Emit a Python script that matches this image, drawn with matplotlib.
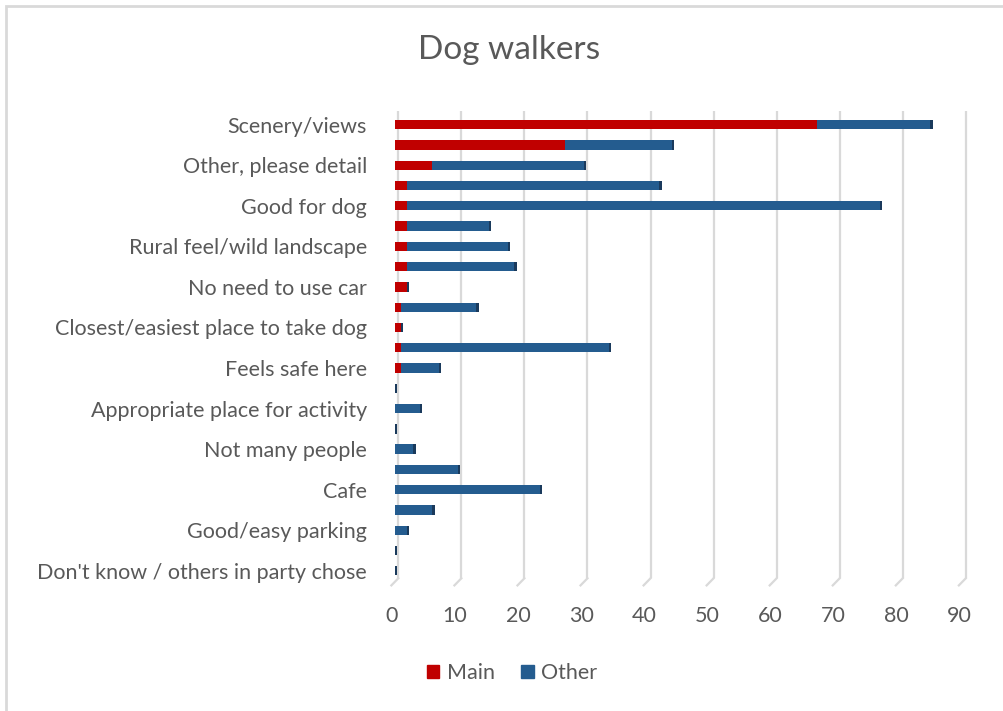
import numpy as np
import matplotlib.pyplot as plt
from matplotlib.patches import Patch, Rectangle

plt.rcParams['font.family'] = ['Lato', 'DejaVu Sans']

# reasons, top to bottom (only every other one is labelled on the axis)
reasons = [
    'Scenery/views', '',
    'Other, please detail', '',
    'Good for dog', '',
    'Rural feel/wild landscape', '',
    'No need to use car', '',
    'Closest/easiest place to take dog', '',
    'Feels safe here', '',
    'Appropriate place for activity', '',
    'Not many people', '',
    'Cafe', '',
    'Good/easy parking', '',
    "Don't know / others in party chose",
]
main = np.array([67, 27, 6, 2, 2, 2, 2, 2, 2, 1, 1, 1, 1,
                 0, 0, 0, 0, 0, 0, 0, 0, 0, 0])
total = np.array([85, 44, 30, 42, 77, 15, 18, 19, 2, 13, 1, 34, 7,
                  0, 4, 0, 3, 10, 23, 6, 2, 0, 0])
other = total - main
ticks = np.arange(0, 91, 10)

RED = '#c00000'
BLUE = '#245c8f'
CAP = '#1a3a5c'
TXT = '#595959'
GRID = '#d9d9d9'
FS = 15.5

fig = plt.figure(figsize=(10.04, 7.11), dpi=100)
ax = fig.add_axes([392 / 1004, 1 - 578.3 / 711, 570 / 1004, 467.6 / 711])

y = np.arange(len(reasons))
h = 0.46
ax.barh(y, main, height=h, color=RED, zorder=3)
ax.barh(y, other, left=main, height=h, color=BLUE, zorder=3)
# dark end face of each bar (3D look)
ax.barh(y, 0.35, left=total, height=h, color=CAP, zorder=3)

ax.set_xlim(0, 90)
ax.set_ylim(22.37, -0.69)

# back-wall gridlines with the little floor slant at the bottom
for t in ticks:
    gx = t + 0.6
    ax.plot([gx, gx], [-0.69, 22.37], color=GRID, lw=1.6, zorder=1,
            clip_on=False, solid_capstyle='butt')
    ax.plot([gx, gx - 1.1], [22.37, 22.72], color=GRID, lw=1.6, zorder=1,
            clip_on=False)

for s in ax.spines.values():
    s.set_visible(False)

ax.set_yticks(y)
ax.set_yticklabels(reasons, fontsize=FS, color=TXT)
ax.tick_params(axis='y', length=0, pad=18)
ax.set_xticks(ticks - 0.4)
ax.set_xticklabels([str(t) for t in ticks], fontsize=FS, color=TXT)
ax.tick_params(axis='x', length=0, pad=20)

fig.text(509 / 1004, 1 - 50 / 711, 'Dog walkers', ha='center', va='center',
         fontsize=24, color=TXT)

handles = [Patch(color=RED, label='Main'), Patch(color=BLUE, label='Other')]
fig.legend(handles=handles, loc='center', bbox_to_anchor=(512 / 1004, 1 - 673 / 711),
           ncol=2, frameon=False, fontsize=FS, labelcolor=TXT,
           handlelength=0.6, handleheight=0.6, handletextpad=0.35, columnspacing=1.2)

# chart frame (extends past the right and bottom edges)
fig.patches.append(Rectangle((5.5 / 1004, -0.1), 1.2, 1 - 5.5 / 711 + 0.1,
                             transform=fig.transFigure, fill=False,
                             edgecolor=GRID, lw=2))

fig.savefig('out.png', dpi=100)
